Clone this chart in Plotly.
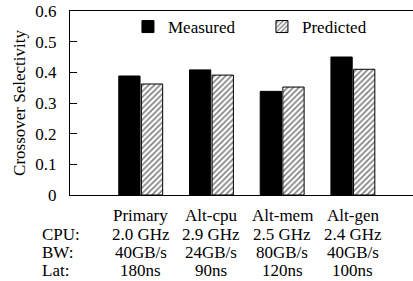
import plotly.graph_objects as go

categories = ["Primary", "Alt-cpu", "Alt-mem", "Alt-gen"]
cpu = ["2.0 GHz", "2.9 GHz", "2.5 GHz", "2.4 GHz"]
bw = ["40GB/s", "24GB/s", "80GB/s", "40GB/s"]
lat = ["180ns", "90ns", "120ns", "100ns"]
row_labels = ["", "CPU:", "BW:", "Lat:"]
measured = [0.388, 0.408, 0.338, 0.450]
predicted = [0.362, 0.391, 0.352, 0.410]
yticks = [0, 0.1, 0.2, 0.3, 0.4, 0.5, 0.6]

FONT = "Liberation Serif"
FS = 17

fig = go.Figure()
fig.add_trace(go.Bar(
    name="Measured", x=categories, y=measured,
    marker=dict(color="black", line=dict(color="black", width=1)),
))
fig.add_trace(go.Bar(
    name="Predicted", x=categories, y=predicted,
    marker=dict(color="white", line=dict(color="black", width=1),
                pattern=dict(shape="/", size=4, solidity=0.4,
                             fgcolor="black", bgcolor="white")),
))

fig.update_layout(
    width=413, height=281,
    margin=dict(l=70, r=0, t=11, b=86),
    paper_bgcolor="white", plot_bgcolor="white",
    font=dict(family=FONT, size=FS, color="black"),
    barmode="group", bargap=0.36, bargroupgap=0.06,
    showlegend=True,
    legend=dict(orientation="h", x=0.169, y=0.913, yanchor="middle", xanchor="left",
                bgcolor="rgba(0,0,0,0)", font=dict(family=FONT, size=FS),
                entrywidth=89, entrywidthmode="pixels"),
    xaxis=dict(
        type="category", range=[-1, 3.85], automargin=False,
        showticklabels=False, ticks="",
        showline=True, linecolor="black", linewidth=1, mirror=True,
        showgrid=False,
    ),
    yaxis=dict(
        range=[0, 0.6], automargin=False,
        tickvals=yticks, ticktext=[f"{v:g}" for v in yticks],
        ticks="inside", ticklen=7, tickcolor="black",
        showline=True, linecolor="black", linewidth=1,
        showgrid=False, zeroline=False, ticklabelstandoff=9,
        title=dict(text="Crossover Selectivity", font=dict(family=FONT, size=FS), standoff=5),
        tickfont=dict(family=FONT, size=FS),
    ),
)

rows = [categories, cpu, bw, lat]
row_y = [-0.111, -0.212, -0.313, -0.413]
for values, yy, lab in zip(rows, row_y, row_labels):
    for c, v in zip(categories, values):
        fig.add_annotation(text=v, x=c, xref="x", y=yy, yref="paper",
                           xanchor="center", yanchor="middle", showarrow=False,
                           font=dict(family=FONT, size=FS))
    if lab:
        fig.add_annotation(text=lab, x=-0.0875, xref="paper", y=yy, yref="paper",
                           xanchor="left", yanchor="middle", showarrow=False,
                           font=dict(family=FONT, size=FS))

fig.write_html("out.html", config={"displayModeBar": False},
               post_script="document.body.style.margin='0';document.body.style.overflow='hidden';")
